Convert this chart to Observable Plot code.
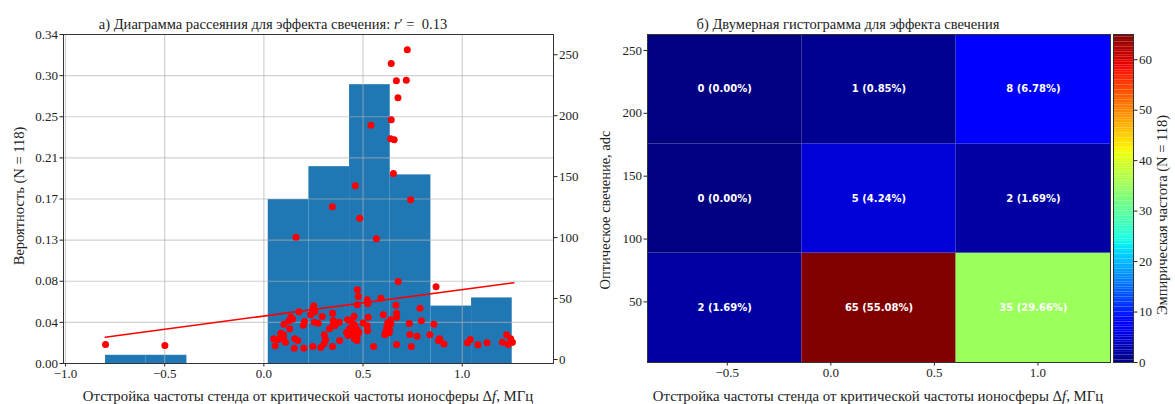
<!DOCTYPE html>
<html><head><meta charset="utf-8">
<script src="https://cdn.jsdelivr.net/npm/d3@7"></script>
<script src="https://cdn.jsdelivr.net/npm/@observablehq/plot@0.6"></script>
<style>
body{margin:0;background:#fff;}
#root{position:relative;width:1175px;height:404px;font-family:"Liberation Serif",serif;color:#222;overflow:hidden;}
#root svg{position:absolute;font-family:"Liberation Serif",serif !important;}
.t{position:absolute;white-space:nowrap;transform:translate(-50%,-50%);font-size:14.5px;line-height:1;}
.xl{font-size:14.8px;}
.rot{transform:translate(-50%,-50%) rotate(-90deg);}
</style></head><body><div id="root"></div>
<script>
// ---------- data ----------
const N = 118;
// scatter: detuning Δf (MHz) and optical glow (adc)
const detuneMHz = [0.723,0.642,0.668,0.718,0.676,0.642,0.540,0.639,0.657,0.653,0.461,0.740,0.345,0.483,0.162,0.567,0.677,0.868,-0.798,-0.499,
0.471,0.476,0.521,0.590,0.471,0.524,0.666,0.252,0.247,0.177,0.257,0.346,0.136,0.294,0.236,0.602,0.669,0.526,0.126,0.350,0.422,0.639,0.669,0.205,0.254,0.274,0.380,0.441,0.101,0.199,0.348,0.457,0.521,0.640,0.130,0.331,0.358,0.432,0.466,0.523,0.634,0.099,0.305,0.417,0.441,0.479,0.610,0.632,0.050,0.073,0.098,0.156,0.171,0.311,0.382,0.424,0.456,0.469,0.109,0.303,0.057,0.153,0.202,0.247,0.287,0.346,0.553,0.669,
0.787,0.733,0.794,0.857,0.736,0.772,0.837,0.886,0.908,0.743,1.026,1.041,1.079,1.125,1.202,1.224,1.232,1.244,1.253,
0.085,0.145,0.450,0.470,0.500,0.455,0.620,0.625,0.615,0.880,1.245];
const glowAdc = [254.1,242.8,228.6,229.1,214.7,196.6,192.2,181.0,180.2,152.6,142.5,131.0,125.3,115.9,100.3,99.0,64.0,59.6,12.3,11.5,
57.2,51.7,49.0,50.3,44.9,45.7,44.5,44.1,41.6,39.1,39.1,38.0,34.7,35.3,36.7,36.7,38.0,34.7,31.7,32.0,32.6,32.6,34.7,31.2,30.6,29.8,30.6,31.2,29.0,28.1,28.1,28.5,27.6,29.3,25.2,25.2,27.6,25.4,25.2,23.5,24.4,20.3,20.3,22.4,21.1,22.4,20.3,21.9,17.0,16.4,17.8,17.0,15.6,16.2,15.6,19.7,17.0,15.6,14.2,12.9,11.2,9.3,9.3,10.7,9.8,10.7,10.7,12.3,
42.1,29.5,31.7,29.0,20.5,19.1,20.3,17.0,12.6,10.7,13.7,16.4,12.1,13.7,14.2,20.3,12.3,17.0,14.2,
21.5,33.0,24.0,19.5,30.0,35.5,27.0,30.5,23.0,15.5,14.0];
// histogram (probability = count / N)
const binLo = [-0.798,-0.593,0.022,0.227,0.432,0.637,0.842,1.047];
const binHi = [-0.593,-0.388,0.227,0.432,0.637,0.842,1.047,1.252];
const binCount = [1,1,20,24,34,23,7,8];
// regression line endpoints
const fitX = [-0.8, 1.26];
const fitY = [18.3, 62.9];
// axis ticks
const xTicksLeft = [-1.0,-0.5,0.0,0.5,1.0];
const probTicks = [0,0.0425,0.085,0.1275,0.17,0.2125,0.255,0.2975,0.34];
const probLabels = ["0.00","0.04","0.08","0.13","0.17","0.21","0.25","0.30","0.34"];
const glowTicks = [0,50,100,150,200,250];
// 2D histogram
const hxEdges = [-0.885,-0.14,0.605,1.35];
const hyEdges = [1.8,88.8,175.7,262.7];
const countsRow0 = [2,65,35];  // bottom row
const countsRow1 = [0,5,2];
const countsRow2 = [0,1,8];    // top row
const xTicksRight = [-0.5,0.0,0.5,1.0];
const yTicksRight = [50,100,150,200,250];
const cbTicks = [0,10,20,30,40,50,60];
const cbMax = 65;

// ---------- helpers ----------
const jetR=[[0,0],[0.35,0],[0.66,1],[0.89,1],[1,0.5]];
const jetG=[[0,0],[0.125,0],[0.375,1],[0.64,1],[0.91,0],[1,0]];
const jetB=[[0,0.5],[0.11,1],[0.34,1],[0.65,0],[1,0]];
function seg(p,t){for(let i=1;i<p.length;i++){if(t<=p[i][0]){const[a,b]=p[i-1],[c,d]=p[i];return b+(d-b)*(t-a)/(c-a);}}return p[p.length-1][1];}
function jet(t){t=Math.max(0,Math.min(1,t));return d3.rgb(seg(jetR,t)*255,seg(jetG,t)*255,seg(jetB,t)*255).formatHex();}

const root = document.getElementById("root");
function place(svg, left, top){ svg.style.left = left+"px"; svg.style.top = top+"px"; root.appendChild(svg); }
const serif = "Liberation Serif";
const baseStyle = {fontFamily: serif, fontSize: "13px", color: "#222", background: "transparent", overflow: "visible"};
const gridOpt = {stroke: "#b0b0b0", strokeOpacity: 0.6, strokeWidth: 1.2};
const axOpt = {tickSize: 3.5, tickPadding: 2, label: null, fontFamily: serif, fontSize: 13};

const points = detuneMHz.map((x,i)=>({x, y: glowAdc[i]}));
const hist = binLo.map((lo,i)=>({lo, hi: binHi[i], p: binCount[i]/N}));
const fit = fitX.map((x,i)=>({x, y: fitY[i]}));

const L = {width: 590, height: 404, marginLeft: 63, marginRight: 37, marginTop: 34, marginBottom: 41};
const xDomL = [-1.01, 1.46];

// histogram layer
place(Plot.plot({
  ...L, style: baseStyle,
  x: {domain: xDomL, axis: null},
  y: {domain: [0, 0.34], axis: null},
  marks: [
    Plot.rect(hist, {x1: "lo", x2: "hi", y1: 0, y2: "p", fill: "#1f77b4"}),
    Plot.gridX({ticks: xTicksLeft, ...gridOpt}),
    Plot.gridY({ticks: probTicks, ...gridOpt}),
    Plot.axisX({ticks: xTicksLeft, tickFormat: d3.format(".1f"), ...axOpt}),
    Plot.axisY({ticks: probTicks, tickFormat: d => probLabels[probTicks.indexOf(d)], ...axOpt}),
    Plot.frame({stroke: "#333"})
  ]
}), 0, 0);

// scatter layer
place(Plot.plot({
  ...L, style: baseStyle,
  x: {domain: xDomL, axis: null},
  y: {domain: [-3.3, 266.6], axis: null},
  marks: [
    Plot.line(fit, {x: "x", y: "y", stroke: "#ff0000", strokeWidth: 1.5}),
    Plot.dot(points, {x: "x", y: "y", r: 3.5, fill: "#ff0000"}),
    Plot.axisY({anchor: "right", ticks: glowTicks, ...axOpt})
  ]
}), 0, 0);

// 2D histogram
const rows = [countsRow0, countsRow1, countsRow2];
const cells = [];
rows.forEach((row, r) => row.forEach((n, c) => cells.push({x1: hxEdges[c], x2: hxEdges[c+1], y1: hyEdges[r], y2: hyEdges[r+1], n})));
place(Plot.plot({
  width: 530, height: 404, marginLeft: 57, marginRight: 10, marginTop: 34, marginBottom: 42,
  style: baseStyle,
  x: {domain: [hxEdges[0], hxEdges[3]], axis: null},
  y: {domain: [hyEdges[0], hyEdges[3]], axis: null},
  color: {type: "linear", domain: [0, cbMax], interpolate: jet},
  marks: [
    Plot.rect(cells, {x1: "x1", x2: "x2", y1: "y1", y2: "y2", fill: "n"}),
    Plot.text(cells, {x: d => (d.x1+d.x2)/2, y: d => (d.y1+d.y2)/2, text: d => `${d.n} (${(100*d.n/N).toFixed(2)}%)`,
      fill: "white", fontWeight: "bold", fontSize: 10, fontFamily: "DejaVu Sans"}),
    Plot.axisX({ticks: xTicksRight, tickFormat: d3.format(".1f"), ...axOpt}),
    Plot.axisY({ticks: yTicksRight, ...axOpt}),
    Plot.frame({stroke: "#333"})
  ]
}), 590, 0);

// colorbar
const cbSteps = d3.range(0, cbMax, 0.5);
place(Plot.plot({
  width: 65, height: 404, marginLeft: 3, marginRight: 42, marginTop: 34, marginBottom: 42,
  style: baseStyle,
  x: {domain: [0, 1], axis: null},
  y: {domain: [0, cbMax], axis: null},
  color: {type: "linear", domain: [0, cbMax], interpolate: jet},
  marks: [
    Plot.rect(cbSteps, {x1: 0, x2: 1, y1: d => d, y2: d => d + 0.5, fill: d => d + 0.25}),
    Plot.axisY({anchor: "right", ticks: cbTicks, ...axOpt}),
    Plot.frame({stroke: "#333"})
  ]
}), 1110, 0);

// texts
const texts = [
  {html: 'а) Диаграмма рассеяния для эффекта свечения: <i>r</i>′ =&nbsp; 0.13', x: 273, y: 24},
  {html: 'б) Двумерная гистограмма для эффекта свечения', x: 848, y: 24},
  {html: 'Отстройка частоты стенда от критической частоты ионосферы Δ<i>f</i>, МГц', x: 308, y: 396, cls: "xl"},
  {html: 'Отстройка частоты стенда от критической частоты ионосферы Δ<i>f</i>, МГц', x: 878, y: 396, cls: "xl"},
  {html: 'Вероятность (N = 118)', x: 19, y: 196, rot: true},
  {html: 'Оптическое свечение, adc', x: 605, y: 210, rot: true},
  {html: 'Эмпирическая частота (N = 118)', x: 1162, y: 215, rot: true}
];
for (const t of texts) {
  const d = document.createElement("div");
  d.className = "t" + (t.rot ? " rot" : "") + (t.cls ? " " + t.cls : "");
  d.innerHTML = t.html;
  d.style.left = t.x + "px"; d.style.top = t.y + "px";
  root.appendChild(d);
}
</script></body></html>
